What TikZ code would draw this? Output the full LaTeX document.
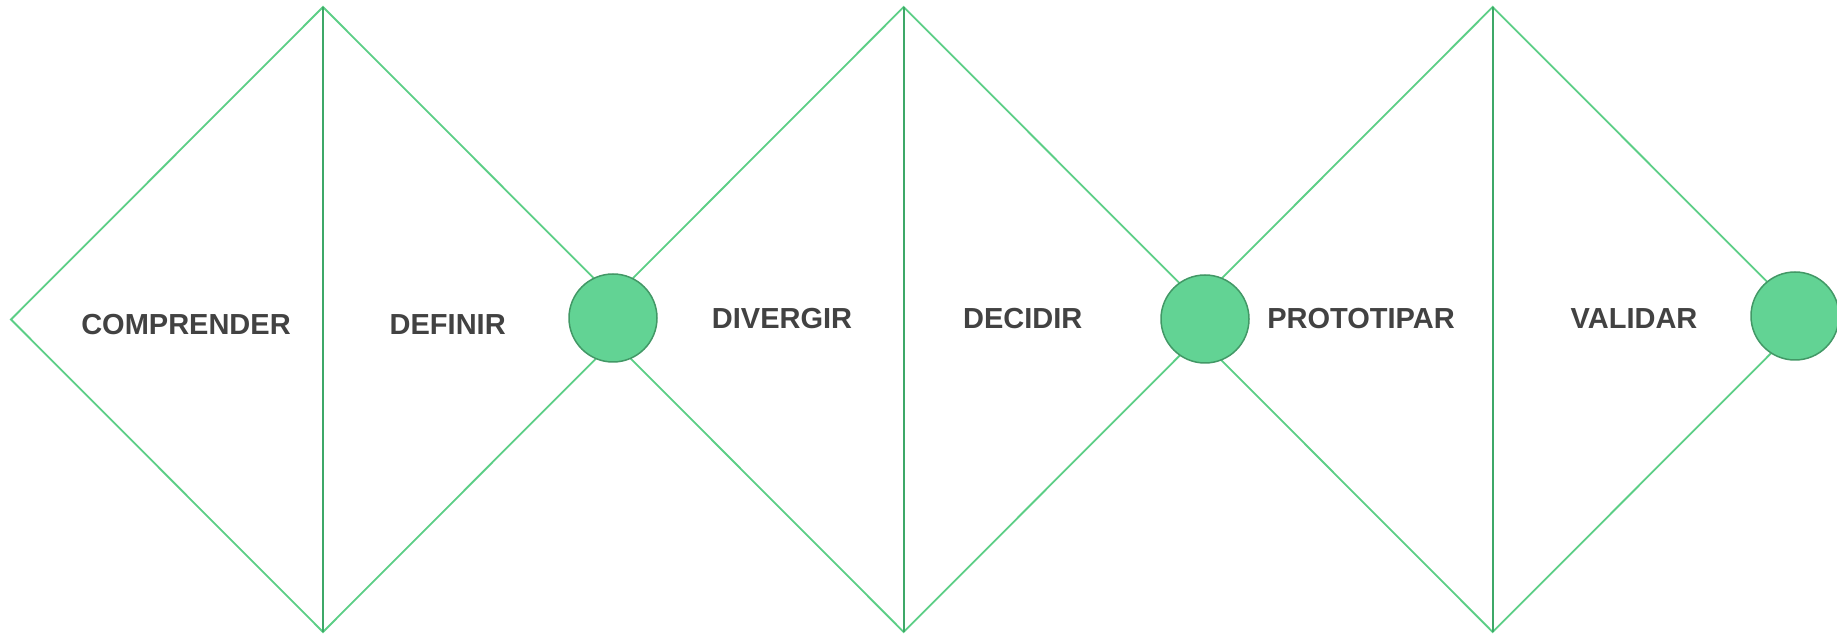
\documentclass[tikz,border=0pt]{standalone}
\usepackage{fontspec}
\setmainfont{Liberation Sans}
\usetikzlibrary{positioning}
\definecolor{dtline}{RGB}{92,206,134}
\definecolor{dtaxis}{RGB}{62,168,104}
\definecolor{dtfill}{RGB}{98,211,148}
\definecolor{dtborder}{RGB}{66,152,102}
\definecolor{dttext}{RGB}{66,66,66}
\tikzset{
  phase/.style={font=\fontsize{14.5}{17}\selectfont\bfseries, text=dttext, inner sep=0pt},
  joint/.style={circle, fill=dtfill, draw=dtborder, line width=0.75pt, minimum size=44pt, inner sep=0pt}
}

\begin{document}
\begin{tikzpicture}[x=0.5pt,y=0.5pt]
\useasboundingbox (0,0) rectangle (1837,636);

% three diamonds
\foreach \cx/\nm in {323/a,903.7/b,1492.7/c} {
  \coordinate (top-\nm) at (\cx,629);
  \coordinate (bot-\nm) at (\cx,4);
  \coordinate (lft-\nm) at (\cx-312,316.5);
  \coordinate (rgt-\nm) at (\cx+312,316.5);
  \draw[dtline, line width=0.9pt, line join=miter] (lft-\nm) -- (top-\nm) -- (rgt-\nm) -- (bot-\nm) -- cycle;
  \draw[dtaxis, line width=1pt] (top-\nm) -- (bot-\nm);
}

% joints
\node[joint] (j1) at (613,318) {};
\node[joint] (j2) at (1205,317) {};
\node[joint] (j3) at (1795,320) {};

% phases
\node[phase] (comprender) at (186,311.5) {COMPRENDER};
\node[phase] (definir) at (447.7,311.5) {DEFINIR};
\node[phase] (divergir) at (782,317) {DIVERGIR};
\node[phase] (decidir) at (1022.7,317) {DECIDIR};
\node[phase] (prototipar) at (1361,317) {PROTOTIPAR};
\node[phase] (validar) at (1634,317) {VALIDAR};
\end{tikzpicture}
\end{document}
